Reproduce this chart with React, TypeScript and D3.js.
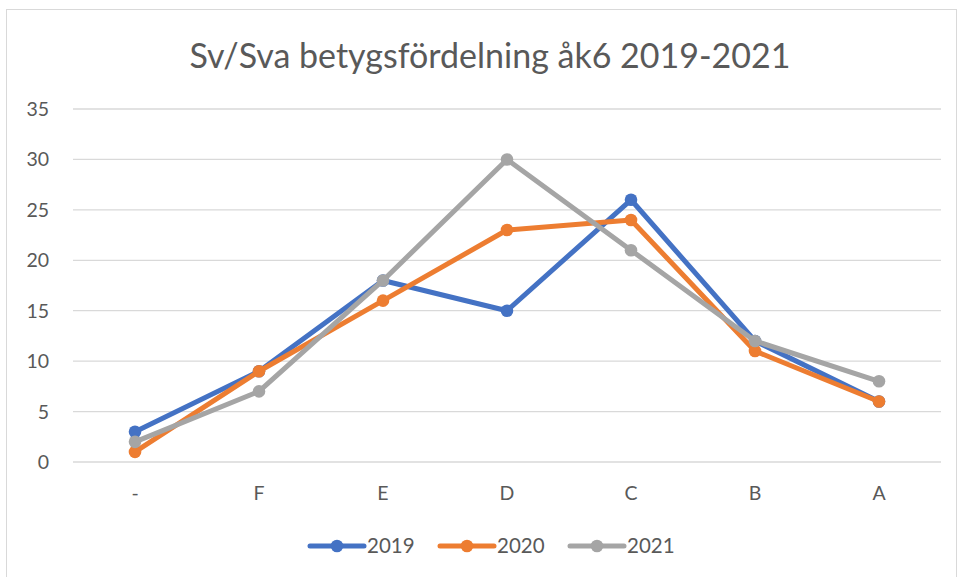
import React from 'react';
import * as d3 from 'd3';

const categories = ['-', 'F', 'E', 'D', 'C', 'B', 'A'];
const years = ['2019', '2020', '2021'];
const values2019 = [3, 9, 18, 15, 26, 12, 6];
const values2020 = [1, 9, 16, 23, 24, 11, 6];
const values2021 = [2, 7, 18, 30, 21, 12, 8];
const yTicks = [0, 5, 10, 15, 20, 25, 30, 35];
const colors = ['#4472C4', '#ED7D31', '#A5A5A5'];

const width = 959;
const height = 577;
const margin = { top: 109, right: 18, bottom: 115, left: 73 };
const font = 'Lato, "Open Sans", sans-serif';

const App = () => {
  const series = [values2019, values2020, values2021];

  const x = d3.scaleBand()
    .domain(categories)
    .range([margin.left, width - margin.right]);

  const y = d3.scaleLinear()
    .domain([0, 35])
    .range([height - margin.bottom, margin.top]);

  const line = d3.line<number>()
    .x((d, i) => x(categories[i])! + x.bandwidth() / 2)
    .y(d => y(d));

  const legendX = [310, 440, 570];

  return (
    <svg width={width} height={height} style={{ position: 'absolute', left: 0, top: 0 }}>
      <rect x={0} y={0} width={width} height={height} fill="#fff" />
      <rect x={6.5} y={9.5} width={width - 9} height={height} fill="#fff" stroke="#d9d9d9" />
      <text x={490} y={68} textAnchor="middle" fontFamily={font} fontSize={34} fill="#595959">
        Sv/Sva betygsfördelning åk6 2019-2021
      </text>
      {yTicks.map(t => (
        <g key={t}>
          <line x1={margin.left} x2={width - margin.right} y1={y(t)} y2={y(t)} stroke="#d9d9d9" strokeWidth={1.3} />
          <text x={49} y={y(t) + 7} textAnchor="end" fontFamily={font} fontSize={19.5} fill="#595959">{t}</text>
        </g>
      ))}
      {categories.map(c => (
        <text key={c} x={x(c)! + x.bandwidth() / 2} y={500} textAnchor="middle" fontFamily={font} fontSize={19.5} fill="#595959">{c}</text>
      ))}
      {series.map((s, k) => (
        <g key={years[k]}>
          <path d={line(s)!} fill="none" stroke={colors[k]} strokeWidth={5} strokeLinejoin="round" strokeLinecap="round" />
          {s.map((v, i) => (
            <circle key={i} cx={x(categories[i])! + x.bandwidth() / 2} cy={y(v)} r={6.3} fill={colors[k]} />
          ))}
        </g>
      ))}
      {years.map((yr, k) => (
        <g key={yr} transform={`translate(${legendX[k]},546)`}>
          <line x1={0} x2={54} y1={0} y2={0} stroke={colors[k]} strokeWidth={5} strokeLinecap="round" />
          <circle cx={27} cy={0} r={6.3} fill={colors[k]} />
          <text x={57} y={7} fontFamily={font} fontSize={20.5} fill="#595959">{yr}</text>
        </g>
      ))}
    </svg>
  );
};

export default App;
